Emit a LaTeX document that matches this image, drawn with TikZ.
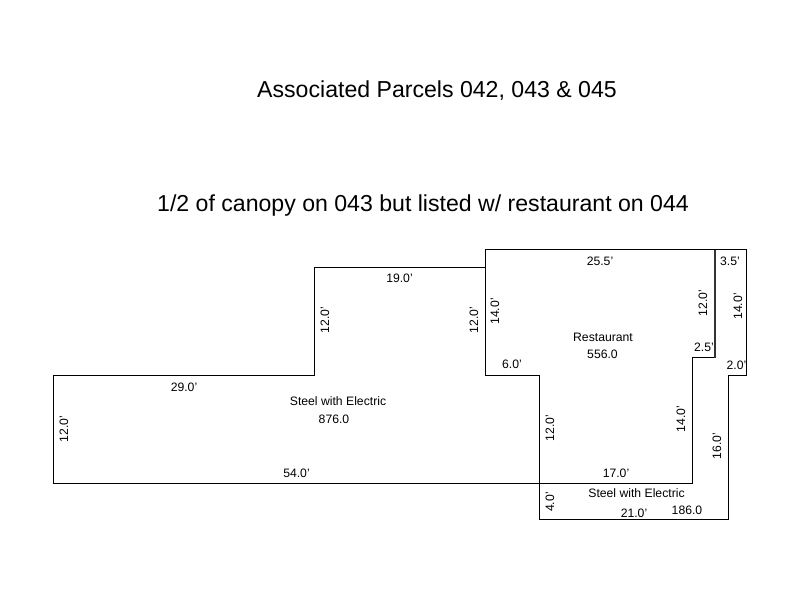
\documentclass[tikz,border=0pt]{standalone}
\usepackage{fontspec}
\setmainfont{Liberation Sans}
\tikzset{
  x=1pt,y=-1pt,
  dim/.style={inner sep=0pt,font=\fontsize{12.2}{14}\selectfont,text=black},
  vdim/.style={dim,rotate=90},
  heading/.style={inner sep=0pt,font=\fontsize{23.1}{28}\selectfont,text=black},
  parcel/.style={draw=black,line width=1pt,line join=miter},
}
\begin{document}
\begin{tikzpicture}
\useasboundingbox (0,0) rectangle (800,600);
\fill[white] (0,0) rectangle (800,600);
% outlines
\draw[parcel] (53.5,375.5) -- (314.5,375.5) -- (314.5,267.5) -- (485.5,267.5) -- (485.5,249.5) -- (746.5,249.5) -- (746.5,375.5) -- (728.5,375.5) -- (728.5,519.5) -- (539.5,519.5) -- (539.5,483.5) -- (53.5,483.5) -- cycle;
\draw[parcel] (485.5,267.5) -- (485.5,375.5) -- (539.5,375.5) -- (539.5,483.5) -- (692.5,483.5) -- (692.5,357.5) -- (715,357.5);
\draw[black!80,line width=2pt] (715,249.5) -- (715,358);
% headings
\node[heading] (t1) at (437,91) {Associated Parcels 042, 043 \& 045};
\node[heading] (t2) at (423,206) {1/2 of canopy on 043 but listed w/ restaurant on 044};
% horizontal labels
\node[dim] (a) at (184,387) {29.0'};
\node[dim] (b) at (399.5,278) {19.0'};
\node[dim] (c) at (600,261) {25.5'};
\node[dim] (d) at (730,261) {3.5'};
\node[dim] (e) at (704,347) {2.5'};
\node[dim] (f) at (736.5,365) {2.0'};
\node[dim] (g) at (512,364) {6.0'};
\node[dim] (h) at (296.5,473) {54.0'};
\node[dim] (i) at (616,473) {17.0'};
\node[dim] (j) at (634,513) {21.0'};
\node[dim] (k) at (687,510) {186.0};
\node[dim] (l) at (338,401) {Steel with Electric};
\node[dim] (m) at (334,419) {876.0};
\node[dim] (n) at (603,337) {Restaurant};
\node[dim] (o) at (602.5,354) {556.0};
\node[dim] (p) at (636.5,493) {Steel with Electric};
% vertical labels
\node[vdim] (q) at (64,429) {12.0'};
\node[vdim] (r) at (325,320) {12.0'};
\node[vdim] (s) at (474,320) {12.0'};
\node[vdim] (u) at (495,311.5) {14.0'};
\node[vdim] (v) at (703,303) {12.0'};
\node[vdim] (w) at (738,306.5) {14.0'};
\node[vdim] (x) at (550,428) {12.0'};
\node[vdim] (y) at (681,419) {14.0'};
\node[vdim] (z) at (717,446) {16.0'};
\node[vdim] (aa) at (550,502) {4.0'};
\end{tikzpicture}
\end{document}
